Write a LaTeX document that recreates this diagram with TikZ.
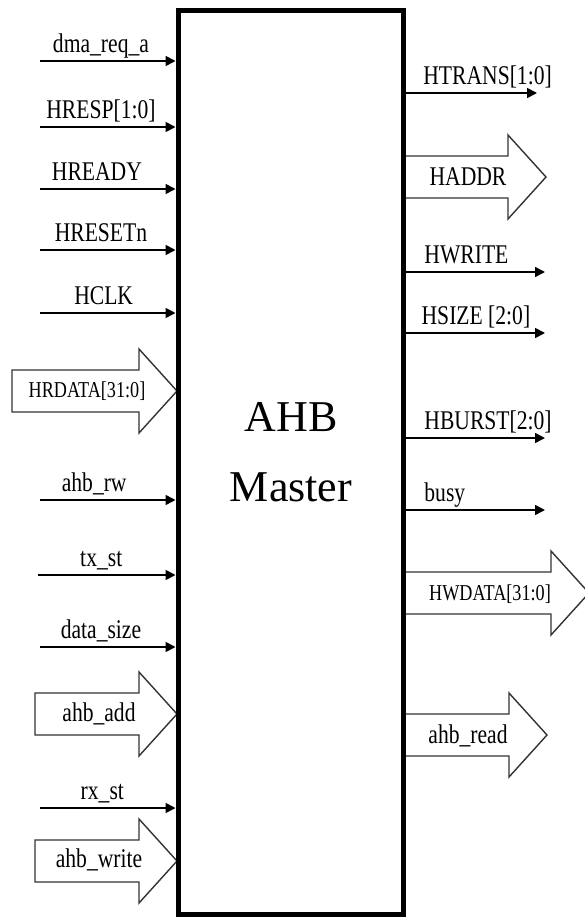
\documentclass[tikz,border=0pt]{standalone}
\usepackage{fontspec}
\setmainfont{Liberation Serif}
\newfontfamily\sigfont{Liberation Serif}[FakeStretch=0.8]
\usepackage{tikz}
\usetikzlibrary{arrows.meta, positioning}
\tikzstyle{masterbox} = [
rectangle,
draw=black,
line width=5pt,
minimum width=225pt,
minimum height=904pt
]
\tikzstyle{titletext} = [
align=center,
inner sep=0pt,
font=\fontsize{44}{70}\selectfont
]
\tikzstyle{sig} = [
line width=1.6pt,
-{Triangle[length=10pt,width=10pt]},
draw=black
]
\tikzstyle{sigtext} = [
anchor=base,
yshift=9pt,
inner sep=0pt,
font=\sigfont\fontsize{27}{30}\selectfont
]
\tikzstyle{sigtextr} = [
sigtext,
anchor=base west
]
\tikzstyle{bus} = [
draw=black!80,
line width=1.4pt,
fill=white
]
\tikzstyle{bustext} = [
anchor=base,
inner sep=0pt,
font=\sigfont\fontsize{27}{30}\selectfont
]
\tikzstyle{bustextsmall} = [
bustext,
font=\sigfont\fontsize{22.7}{25}\selectfont
]
% hollow bus arrow: start x, end of shaft x, centre y
\newcommand{\busarrow}[3]{%
\draw [bus] (#1,#3-21) -- (#2,#3-21) -- (#2,#3-42) -- (#2+38,#3)
  -- (#2,#3+42) -- (#2,#3+21) -- (#1,#3+21) -- cycle;}

\begin{document}
\begin{tikzpicture}[x=1pt,y=-1pt]
			\useasboundingbox (0,0) rectangle (585,918);
			
			% bus arrows
			\busarrow{12}{139}{391}
			\node (hrdata) [bustextsmall] at (87,397) {HRDATA[31:0]};
			\busarrow{35}{139}{714}
			\node (ahbadd) [bustext] at (99,721) {ahb\_add};
			\busarrow{35}{139}{861}
			\node (ahbwrite) [bustext] at (99,867) {ahb\_write};
			\busarrow{403}{508}{177}
			\node (haddr) [bustext] at (468,185) {HADDR};
			\busarrow{403}{551}{593}
			\node (hwdata) [bustextsmall] at (490,600) {HWDATA[31:0]};
			\busarrow{403}{509}{735}
			\node (ahbread) [bustext] at (468,743) {ahb\_read};
			
			\node (master) [masterbox] at (290.5,462) {};
			\node (title) [titletext] at (291,452) {AHB\\Master};
			
			% inputs
			\coordinate (dmaIn) at (40,61);
			\coordinate (hrespIn) at (40,127);
			\coordinate (hreadyIn) at (40,189);
			\coordinate (hresetIn) at (40,250);
			\coordinate (hclkIn) at (40,313);
			\coordinate (rwIn) at (40,500);
			\coordinate (txIn) at (38,575);
			\coordinate (sizeIn) at (40,647);
			\coordinate (rxIn) at (40,808);
			
			\draw [sig] (dmaIn) -- node (dmaLbl) [sigtext, pos=.45] {dma\_req\_a} (dmaIn -| master.west);
			\draw [sig] (hrespIn) -- node (hrespLbl) [sigtext, pos=.45] {HRESP[1:0]} (hrespIn -| master.west);
			\draw [sig] (hreadyIn) -- node (hreadyLbl) [sigtext, pos=.42] {HREADY} (hreadyIn -| master.west);
			\draw [sig] (hresetIn) -- node (hresetLbl) [sigtext, pos=.45] {HRESETn} (hresetIn -| master.west);
			\draw [sig] (hclkIn) -- node (hclkLbl) [sigtext, pos=.47] {HCLK} (hclkIn -| master.west);
			\draw [sig] (rwIn) -- node (rwLbl) [sigtext, pos=.40] {ahb\_rw} (rwIn -| master.west);
			\draw [sig] (txIn) -- node (txLbl) [sigtext, pos=.46] {tx\_st} (txIn -| master.west);
			\draw [sig] (sizeIn) -- node (sizeLbl) [sigtext, pos=.45] {data\_size} (sizeIn -| master.west);
			\draw [sig] (rxIn) -- node (rxLbl) [sigtext, pos=.46] {rx\_st} (rxIn -| master.west);
			
			% outputs
			\coordinate (htransOut) at (537,93);
			\coordinate (hwriteOut) at (545,272);
			\coordinate (hsizeOut) at (545,333);
			\coordinate (hburstOut) at (545,438);
			\coordinate (busyOut) at (545,510);
			
			\draw [sig] (htransOut -| master.east) -- node (htransLbl) [sigtextr, pos=.13] {HTRANS[1:0]} (htransOut);
			\draw [sig] (hwriteOut -| master.east) -- node (hwriteLbl) [sigtextr, pos=.13] {HWRITE} (hwriteOut);
			\draw [sig] (hsizeOut -| master.east) -- node (hsizeLbl) [sigtextr, pos=.11] {HSIZE [2:0]} (hsizeOut);
			\draw [sig] (hburstOut -| master.east) -- node (hburstLbl) [sigtextr, pos=.13] {HBURST[2:0]} (hburstOut);
			\draw [sig] (busyOut -| master.east) -- node (busyLbl) [sigtextr, pos=.13] {busy} (busyOut);
			
		\end{tikzpicture}
\end{document}
